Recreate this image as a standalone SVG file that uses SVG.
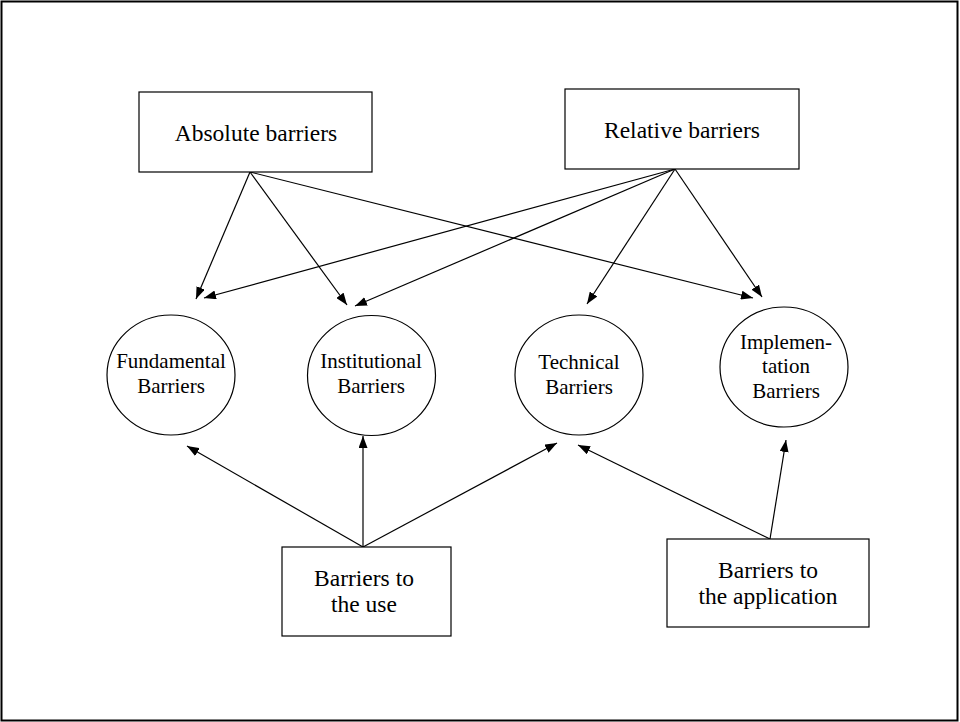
<svg xmlns="http://www.w3.org/2000/svg" width="960" height="722" viewBox="0 0 960 722">
<defs>
<style>
.frame{fill:#fff;stroke:#000;stroke-width:2}
.box{fill:#fff;stroke:#000;stroke-width:1.2}
.circ{fill:#fff;stroke:#000;stroke-width:1.2}
.conn line{stroke:#000;stroke-width:1.2;marker-end:url(#ah)}
.bl{font-family:"Liberation Serif","Times New Roman",serif;font-size:23.5px;fill:#000;text-anchor:middle}
.cl{font-family:"Liberation Serif","Times New Roman",serif;font-size:21px;fill:#000;text-anchor:middle}
</style>
<marker id="ah" viewBox="0 0 12 9" refX="12" refY="4.5" markerWidth="12" markerHeight="9" markerUnits="userSpaceOnUse" orient="auto">
<path d="M0,0 L12,4.5 L0,9 z" fill="#000"/>
</marker>
</defs>
<rect class="frame" x="1.5" y="1.5" width="956" height="719"/>
<g id="connectors" class="conn">
<line x1="250" y1="172" x2="196" y2="299"/>
<line x1="250" y1="172" x2="347" y2="305"/>
<line x1="250" y1="172" x2="753" y2="298"/>
<line x1="675" y1="169" x2="204" y2="298"/>
<line x1="675" y1="169" x2="355" y2="306"/>
<line x1="675" y1="169" x2="587" y2="304"/>
<line x1="675" y1="169" x2="762" y2="297"/>
<line x1="363" y1="547" x2="187" y2="446"/>
<line x1="363" y1="547" x2="363" y2="436"/>
<line x1="363" y1="547" x2="557" y2="443"/>
<line x1="770" y1="539" x2="578" y2="445"/>
<line x1="770" y1="539" x2="786" y2="440"/>
</g>
<g id="absolute">
<rect class="box" x="139" y="92" width="233" height="80"/>
<text class="bl" x="256" y="141">Absolute barriers</text>
</g>
<g id="relative">
<rect class="box" x="565" y="89" width="234" height="80"/>
<text class="bl" x="682" y="138">Relative barriers</text>
</g>
<g id="fundamental">
<ellipse class="circ" cx="171" cy="375" rx="64" ry="60"/>
<text class="cl" x="171" y="368">Fundamental</text>
<text class="cl" x="171" y="393">Barriers</text>
</g>
<g id="institutional">
<ellipse class="circ" cx="371.5" cy="375.5" rx="64" ry="60"/>
<text class="cl" x="371" y="368">Institutional</text>
<text class="cl" x="371" y="393">Barriers</text>
</g>
<g id="technical">
<ellipse class="circ" cx="579" cy="375" rx="64" ry="60"/>
<text class="cl" x="579" y="369">Technical</text>
<text class="cl" x="579" y="394">Barriers</text>
</g>
<g id="implementation">
<ellipse class="circ" cx="784" cy="367" rx="64" ry="60"/>
<text class="cl" x="786" y="349">Implemen-</text>
<text class="cl" x="786" y="373">tation</text>
<text class="cl" x="786" y="398">Barriers</text>
</g>
<g id="use">
<rect class="box" x="282" y="547" width="169" height="89"/>
<text class="bl" x="364" y="586">Barriers to</text>
<text class="bl" x="364" y="612">the use</text>
</g>
<g id="application">
<rect class="box" x="667" y="539" width="202" height="88"/>
<text class="bl" x="768" y="578">Barriers to</text>
<text class="bl" x="768" y="604">the application</text>
</g>
</svg>
